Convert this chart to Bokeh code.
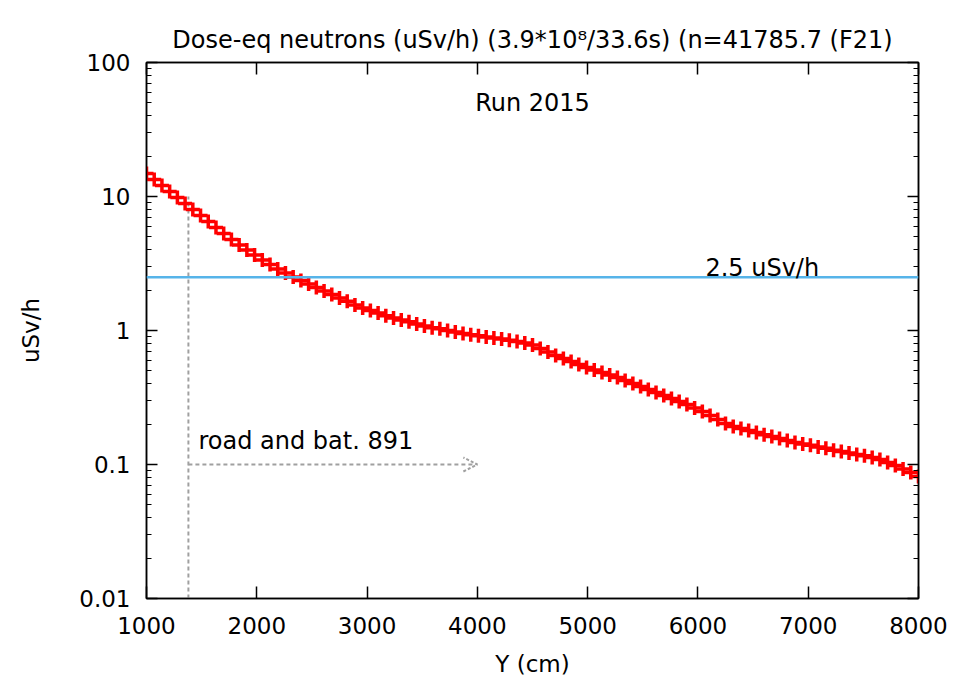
from bokeh.plotting import figure
from bokeh.models import (Range1d, LinearAxis, LogAxis, Label, Arrow, OpenHead,
                          CustomJSTickFormatter, FixedTicker, Span, Title)
from bokeh.embed import file_html
from bokeh.resources import INLINE

# ---- data ----
y_cm = [1000, 1070, 1140, 1210, 1280, 1350, 1420, 1490, 1560, 1630,
        1700, 1770, 1840, 1910, 1980, 2050, 2120, 2190, 2260, 2330,
        2400, 2470, 2540, 2610, 2680, 2750, 2820, 2890, 2960, 3030,
        3100, 3170, 3240, 3310, 3380, 3450, 3520, 3590, 3660, 3730,
        3800, 3870, 3940, 4010, 4080, 4150, 4220, 4290, 4360, 4430,
        4500, 4570, 4640, 4710, 4780, 4850, 4920, 4990, 5060, 5130,
        5200, 5270, 5340, 5410, 5480, 5550, 5620, 5690, 5760, 5830,
        5900, 5970, 6040, 6110, 6180, 6250, 6320, 6390, 6460, 6530,
        6600, 6670, 6740, 6810, 6880, 6950, 7020, 7090, 7160, 7230,
        7300, 7370, 7440, 7510, 7580, 7650, 7720, 7790, 7860, 7930,
        8000]
dose = [14.85, 13.39, 12.08, 10.90, 9.83, 8.87, 8.00, 7.22, 6.51, 5.87,
        5.30, 4.78, 4.35, 3.99, 3.66, 3.36, 3.11, 2.88, 2.69, 2.51,
        2.36, 2.22, 2.09, 1.97, 1.86, 1.75, 1.65, 1.55, 1.47, 1.41,
        1.35, 1.29, 1.24, 1.20, 1.16, 1.12, 1.08, 1.05, 1.03, 1.00,
        0.974, 0.950, 0.930, 0.913, 0.896, 0.879, 0.863, 0.845, 0.828, 0.807,
        0.779, 0.734, 0.691, 0.651, 0.618, 0.587, 0.557, 0.530, 0.507, 0.486,
        0.465, 0.446, 0.423, 0.402, 0.382, 0.363, 0.345, 0.327, 0.311, 0.295,
        0.280, 0.264, 0.249, 0.232, 0.217, 0.202, 0.192, 0.186, 0.179, 0.173,
        0.167, 0.162, 0.156, 0.151, 0.146, 0.142, 0.139, 0.135, 0.132, 0.128,
        0.125, 0.122, 0.119, 0.116, 0.113, 0.109, 0.1035, 0.0983, 0.0926, 0.0872,
        0.0813]
limit_value = 2.5
road_y = 1380
arrow_end = 4000
arrow_level = 0.1
road_top = 10
x_ticks = [1000, 2000, 3000, 4000, 5000, 6000, 7000, 8000]
y_ticks = [0.01, 0.1, 1, 10, 100]
title_text = "Dose-eq neutrons (uSv/h) (3.9*10\u2078/33.6s) (n=41785.7 (F21)"

FONT = "DejaVu Sans"
FS = "23px"
FS_TXT = "24px"

p = figure(width=955, height=684, output_backend="svg", toolbar_location=None,
           y_axis_type="log", title_location=None,
           x_range=Range1d(1000, 8000), y_range=Range1d(0.01, 100),
           min_border_left=146, min_border_right=37,
           min_border_top=62, min_border_bottom=86)
p.xgrid.visible = False
p.ygrid.visible = False
p.outline_line_color = "black"
p.outline_line_width = 1.5
p.background_fill_color = "white"
p.border_fill_color = "white"

fmt = CustomJSTickFormatter(code="return parseFloat(tick.toPrecision(6)).toString();")
minor_y = [m * d for d in [0.01, 0.1, 1, 10] for m in range(2, 10)]

def style_axis(ax, labels=True, minor=True, major_in=10):
    ax.axis_line_color = "black"
    ax.axis_line_width = 1.5
    ax.major_tick_in = major_in
    ax.major_tick_out = 0
    ax.major_tick_line_color = "black"
    ax.major_tick_line_width = 1.5
    if minor:
        ax.minor_tick_in = 5
        ax.minor_tick_out = 0
        ax.minor_tick_line_color = "black"
        ax.minor_tick_line_width = 1.2
    else:
        ax.minor_tick_line_color = None
    if labels:
        ax.major_label_text_font = FONT
        ax.major_label_text_font_size = FS
        ax.major_label_text_color = "black"
    else:
        ax.major_label_text_font_size = "0px"
        ax.major_label_text_color = None
        ax.major_label_standoff = 0

# bottom x axis
xa = p.xaxis[0]
xa.ticker = FixedTicker(ticks=x_ticks)
style_axis(xa, labels=True, minor=False, major_in=12)
xa.major_label_standoff = 18
xa.axis_label = "Y (cm)"
xa.axis_label_text_font = FONT
xa.axis_label_text_font_size = FS
xa.axis_label_text_font_style = "normal"
xa.axis_label_text_color = "black"
xa.axis_label_standoff = 14

# left y axis
ya = p.yaxis[0]
ya.ticker = FixedTicker(ticks=y_ticks, minor_ticks=minor_y)
ya.formatter = fmt
style_axis(ya, labels=True, minor=True, major_in=11)
ya.major_label_standoff = 16
ya.axis_label = "uSv/h"
ya.axis_label_text_font = FONT
ya.axis_label_text_font_size = FS
ya.axis_label_text_font_style = "normal"
ya.axis_label_text_color = "black"
ya.axis_label_standoff = 32

# mirrored axes
xt = LinearAxis(ticker=FixedTicker(ticks=x_ticks))
style_axis(xt, labels=False, minor=False, major_in=12)
p.add_layout(xt, "above")
yr = LogAxis(ticker=FixedTicker(ticks=y_ticks, minor_ticks=minor_y))
style_axis(yr, labels=False, minor=True, major_in=11)
p.add_layout(yr, "right")

p.add_layout(Title(text=title_text, align="center", text_font=FONT, text_font_size=FS_TXT,
                   text_font_style="normal", text_color="black", standoff=18), "above")

# 2.5 uSv/h limit line
p.add_layout(Span(location=limit_value, dimension="width", line_color="#56b4e9", line_width=2.5))

# road marker: dashed vertical and dashed arrow
p.segment(x0=[road_y], y0=[0.01], x1=[road_y], y1=[road_top],
          line_color="#a0a0a0", line_width=2, line_dash="4 3")
p.add_layout(Arrow(x_start=road_y, y_start=arrow_level, x_end=arrow_end, y_end=arrow_level,
                   line_color="#a0a0a0", line_width=2, line_dash="4 3",
                   end=OpenHead(size=14, line_color="#a0a0a0", line_width=2, line_dash="3 2")))

# data
p.scatter(y_cm, dose, marker="cross", size=14, line_width=3.5, color="red")

# texts
p.add_layout(Label(x=4500, y=50, text="Run 2015", text_align="center", text_baseline="middle",
                   text_font=FONT, text_font_size=FS_TXT, text_color="black"))
p.add_layout(Label(x=6068, y=2.95, text="2.5 uSv/h", text_align="left", text_baseline="middle",
                   text_font=FONT, text_font_size=FS_TXT, text_color="black"))
p.add_layout(Label(x=1471, y=0.149, text="road and bat. 891", text_align="left", text_baseline="middle",
                   text_font=FONT, text_font_size=FS_TXT, text_color="black"))

open("out.html", "w").write(file_html(p, INLINE))
